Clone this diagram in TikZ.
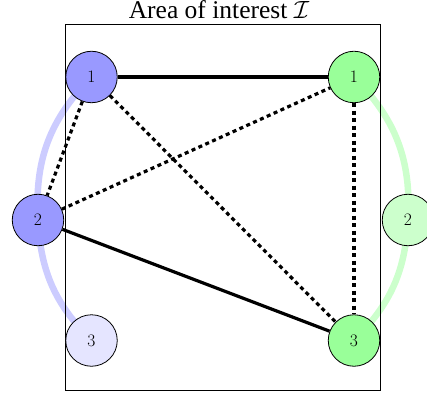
\documentclass[tikz,border=0pt]{standalone}
\usepackage{fontspec}
\newfontfamily\titlefont{Liberation Serif}
\usetikzlibrary{backgrounds}
\begin{document}
\begin{tikzpicture}[x=1pt,y=1pt,
  vertex/.style={circle,draw,line width=0.8pt,minimum size=51.5pt,inner sep=0pt,font=\fontsize{17.5}{17.5}\selectfont},
  strong/.style={line width=3.2pt},
  weak/.style={line width=3.2pt,dash pattern=on 4pt off 3.5pt},
  track/.style={line width=6.5pt}]
\useasboundingbox (0,0) rectangle (427,396);
\node[draw,line width=0.9pt,minimum width=315pt,minimum height=366pt,inner sep=0pt,anchor=south west] (area) at (65,5) {};
\node[font=\titlefont\fontsize{25.5}{25.5}\selectfont,anchor=base,inner sep=0pt] (title) at (219,377.5) {Area of interest $\mathcal{I}$};
\node[vertex,fill=blue!40] (b1) at (91.5,319) {1};
\node[vertex,fill=blue!40] (b2) at (38,176) {2};
\node[vertex,fill=blue!10] (b3) at (91.5,55.5) {3};
\node[vertex,fill=green!40] (g1) at (354,319) {1};
\node[vertex,fill=green!20] (g2) at (408,176) {2};
\node[vertex,fill=green!40] (g3) at (354,55.5) {3};
\begin{scope}[on background layer]
\draw[track,blue!20] (b1.center) to[bend right=24] (b2.center) to[bend right=21] (b3.center);
\draw[track,green!20] (g1.center) to[bend left=24] (g2.center) to[bend left=21] (g3.center);
\end{scope}
\draw[strong] (b1) -- (g1);
\draw[strong] (b2) -- (g3);
\draw[weak] (b1) -- (b2);
\draw[weak] (b1) -- (g3);
\draw[weak] (b2) -- (g1);
\draw[weak] (g1) -- (g3);
\end{tikzpicture}
\end{document}
